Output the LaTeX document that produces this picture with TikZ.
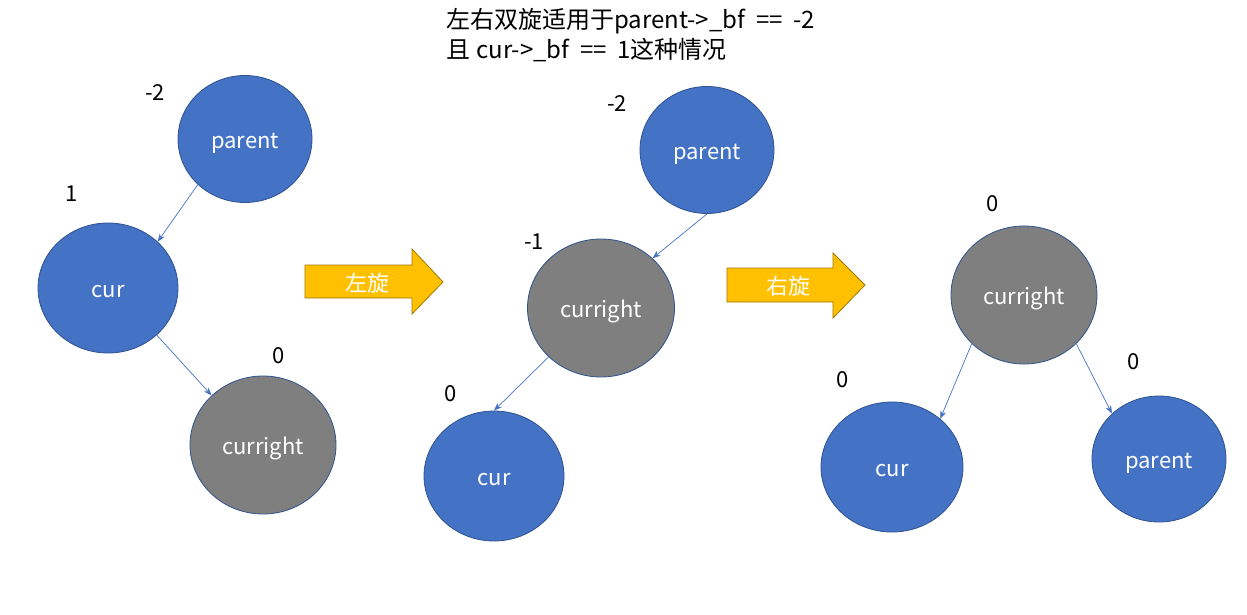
\documentclass[tikz,border=0pt]{standalone}
\usepackage{fontspec}
\setmainfont{Noto Sans CJK SC}
\usetikzlibrary{shapes.geometric,arrows.meta}
\definecolor{nblue}{HTML}{4472C4}
\definecolor{nedge}{HTML}{2F528F}
\definecolor{ngray}{HTML}{7F7F7F}
\definecolor{agold}{HTML}{FFC000}
\definecolor{aedge}{HTML}{A07800}
\tikzset{
  bnode/.style={ellipse,draw=nedge,fill=nblue,line width=0.8pt,text=white,font=\fontsize{22}{24}\selectfont,inner sep=0pt,text height=18pt,text depth=0pt},
  gnode/.style={bnode,fill=ngray},
  num/.style={font=\fontsize{22}{24}\selectfont,inner sep=0pt},
  title/.style={font=\fontsize{24}{29}\selectfont,inner sep=0pt,anchor=west},
  conn/.style={draw=nblue,line width=0.7pt,-{Stealth[length=8pt,width=6pt]}},
  barrow/.style={fill=agold,draw=aedge,line width=0.8pt},
  alabel/.style={text=white,font=\fontsize{22}{24}\selectfont,inner sep=0pt}
}
\newcommand{\tsp}{\hspace{0.45em}}
\begin{document}
\begin{tikzpicture}[x=1pt,y=-1pt]
\useasboundingbox (0,0) rectangle (1247,615);
% title
\node[title] (t1) at (446,21) {左右双旋适用于parent->\_bf\tsp==\tsp-2};
\node[title] (t2) at (446,50) {且\hspace{0.25em}cur->\_bf\tsp==\tsp1这种情况};
% tree 1
\node[bnode,minimum width=134pt,minimum height=127pt] (p1) at (245,139) {parent};
\node[bnode,minimum width=140pt,minimum height=130pt] (c1) at (108,288) {cur};
\node[gnode,minimum width=146pt,minimum height=138pt] (r1) at (263,445) {curright};
\node[num] (n1) at (155,93) {-2};
\node[num] (n2) at (72,194) {1};
\node[num] (n3) at (279,356) {0};
\draw[conn] (p1.224) -- (c1.43);
\draw[conn] (c1.316) -- (r1.136);
% arrow 1
\path[barrow] (305,265) -- (412,265) -- (412,249) -- (443,282) -- (412,314) -- (412,298) -- (305,298) -- cycle;
\node[alabel] (a1) at (367,283) {左旋};
% tree 2
\node[bnode,minimum width=134pt,minimum height=127pt] (p2) at (707,150) {parent};
\node[gnode,minimum width=147pt,minimum height=138pt] (r2) at (601,308) {curright};
\node[bnode,minimum width=140pt,minimum height=130pt] (c2) at (494,476) {cur};
\node[num] (n4) at (617,104) {-2};
\node[num] (n5) at (534,242) {-1};
\node[num] (n6) at (451,394) {0};
\draw[conn] (p2.270) -- (r2.44);
\draw[conn] (r2.223) -- (c2.90);
% arrow 2
\path[barrow] (727,268) -- (833,268) -- (833,253) -- (865,285) -- (833,318) -- (833,302) -- (727,302) -- cycle;
\node[alabel] (a2) at (788,286) {右旋};
% tree 3
\node[gnode,minimum width=146pt,minimum height=138pt] (r3) at (1024,295) {curright};
\node[bnode,minimum width=142pt,minimum height=130pt] (c3) at (892,467) {cur};
\node[bnode,minimum width=134pt,minimum height=126pt] (p3) at (1159,459) {parent};
\node[num] (n7) at (993,204) {0};
\node[num] (n8) at (843,380) {0};
\node[num] (n9) at (1134,362) {0};
\draw[conn] (r3.223) -- (c3.45);
\draw[conn] (r3.317) -- (p3.136);
\end{tikzpicture}
\end{document}
